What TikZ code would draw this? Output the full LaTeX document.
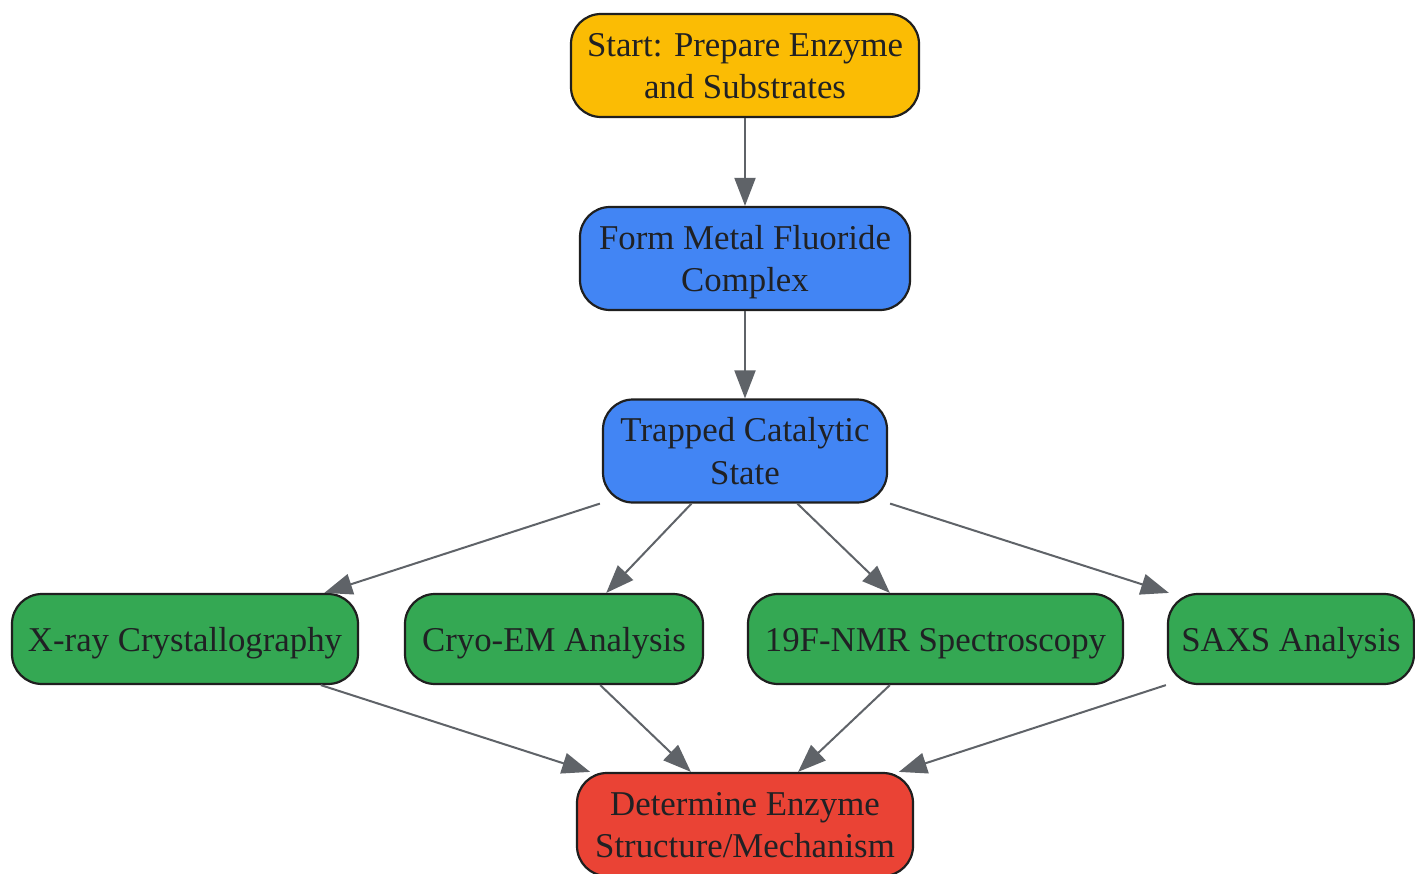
\documentclass[tikz,border=0pt]{standalone}
\usepackage{fontspec}
\setmainfont{Liberation Serif}
\usetikzlibrary{calc,arrows.meta}
\definecolor{cyellow}{HTML}{FBBC04}
\definecolor{cblue}{HTML}{4285F4}
\definecolor{cgreen}{HTML}{34A853}
\definecolor{cred}{HTML}{EA4335}
\definecolor{cedge}{HTML}{5F6368}
\definecolor{ctext}{HTML}{202124}
\definecolor{cborder}{HTML}{1F1F1F}
\newcommand{\lnstrut}{\rule[-8.3pt]{0pt}{40.8pt}}
\begin{document}
\begin{tikzpicture}[x=1pt,y=-1pt,
  box/.style={draw=cborder,line width=2.2pt,rounded corners=30pt,align=center,
    inner sep=0pt,text=ctext,font=\fontsize{34.8}{42.5}\selectfont},
  tall/.style={box,minimum height=103pt},
  flat/.style={box,minimum height=90pt},
  arr/.style={draw=cedge,line width=2pt,-{Triangle[length=28pt,width=21pt]}}]
\clip (0,0) rectangle (1415,874);
\fill[white] (0,0) rectangle (1415,874);
\node[tall,fill=cyellow,minimum width=348pt] (start) at (745,65.5) {\lnstrut Start: Prepare Enzyme\\\lnstrut and Substrates};
\node[tall,fill=cblue,minimum width=330pt] (form) at (745,258.5) {\lnstrut Form Metal Fluoride\\\lnstrut Complex};
\node[tall,fill=cblue,minimum width=284pt] (trap) at (745,451) {\lnstrut Trapped Catalytic\\\lnstrut State};
\node[flat,fill=cgreen,minimum width=346pt] (xray) at (185,639) {\lnstrut X-ray Crystallography};
\node[flat,fill=cgreen,minimum width=298pt] (cryo) at (554,639) {\lnstrut Cryo-EM Analysis};
\node[flat,fill=cgreen,minimum width=375pt] (nmr) at (935.5,639) {\lnstrut 19F-NMR Spectroscopy};
\node[flat,fill=cgreen,minimum width=246pt] (saxs) at (1291,639) {\lnstrut SAXS Analysis};
\node[tall,fill=cred,minimum width=336pt] (det) at (745,824.5) {\lnstrut Determine Enzyme\\\lnstrut Structure/Mechanism};
\draw[arr] (start.south) -- (form.north);
\draw[arr] (form.south) -- (trap.north);
\draw[arr] ($(trap.south west)+(-2,0)$) -- ($(xray.north west)!0.9!(xray.north east)$);
\draw[arr] ($(trap.south west)!0.313!(trap.south east)$) -- ($(cryo.north west)!0.674!(cryo.north east)$);
\draw[arr] ($(trap.south west)!0.683!(trap.south east)$) -- ($(nmr.north west)!0.379!(nmr.north east)$);
\draw[arr] ($(trap.south east)+(2,0)$) -- ($(saxs.north west)+(2,0)$);
\draw[arr] ($(xray.south west)!0.89!(xray.south east)$) -- ($(det.north west)!0.042!(det.north east)$);
\draw[arr] ($(cryo.south west)!0.654!(cryo.south east)$) -- ($(det.north west)!0.34!(det.north east)$);
\draw[arr] ($(nmr.south west)!0.379!(nmr.south east)$) -- ($(det.north west)!0.657!(det.north east)$);
\draw[arr] ($(saxs.south west)+(-1,0)$) -- ($(det.north west)!0.955!(det.north east)$);
\end{tikzpicture}
\end{document}
